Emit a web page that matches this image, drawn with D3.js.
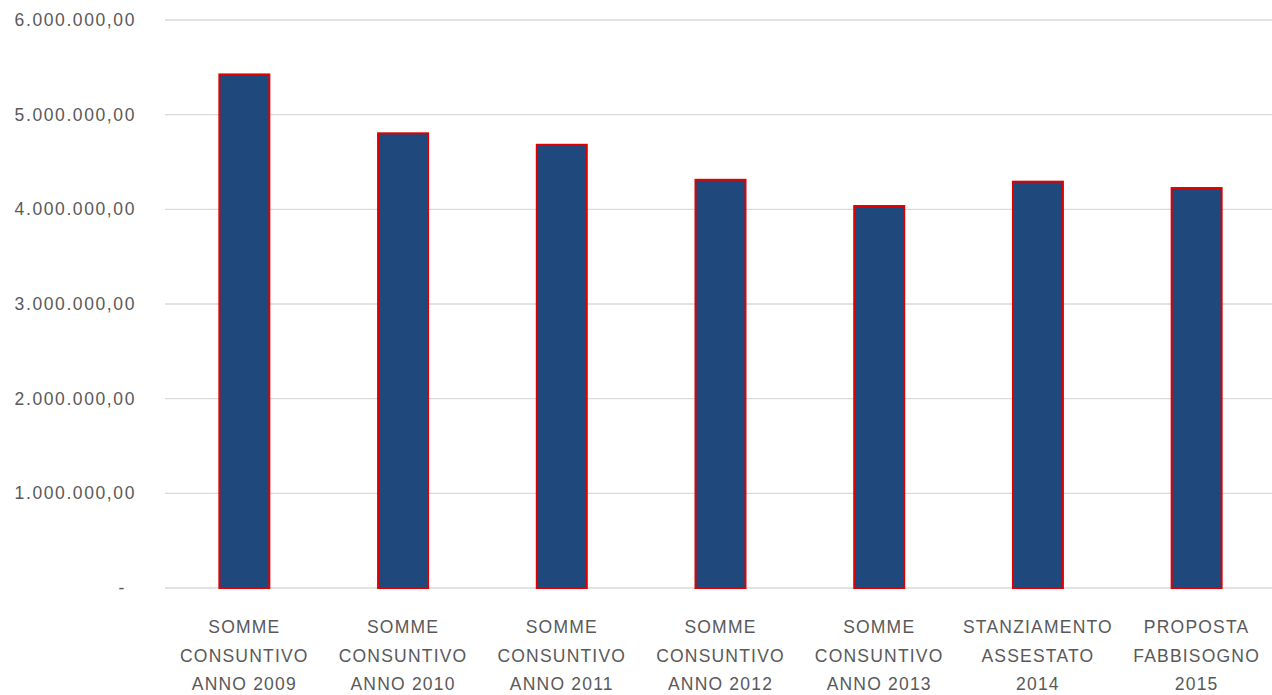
<!DOCTYPE html>
<html><head><meta charset="utf-8">
<script src="https://cdn.jsdelivr.net/npm/d3@7"></script>
<style>html,body{margin:0;padding:0;background:#fff;}svg{display:block;}</style>
</head><body>
<svg id="chart" width="1272" height="695"></svg>
<script>
const categories = [
  ["SOMME","CONSUNTIVO","ANNO 2009"],
  ["SOMME","CONSUNTIVO","ANNO 2010"],
  ["SOMME","CONSUNTIVO","ANNO 2011"],
  ["SOMME","CONSUNTIVO","ANNO 2012"],
  ["SOMME","CONSUNTIVO","ANNO 2013"],
  ["STANZIAMENTO","ASSESTATO","2014"],
  ["PROPOSTA","FABBISOGNO","2015"]
];
const values = [5425000, 4803000, 4682000, 4312000, 4035000, 4292000, 4225000];
const yTicks = [0, 1000000, 2000000, 3000000, 4000000, 5000000, 6000000];
const yTickLabels = ["-", "1.000.000,00", "2.000.000,00", "3.000.000,00", "4.000.000,00", "5.000.000,00", "6.000.000,00"];

(function(){
const svg = d3.select("#chart");
const mLeft = 165, mRight = 1276, mTop = 20, mBottom = 588;
const font = "'Liberation Sans', Arial, sans-serif";

const x = d3.scaleBand().domain(d3.range(categories.length)).range([mLeft, mRight]).paddingInner(0.685).paddingOuter(0.3425);
const y = d3.scaleLinear().domain([0, 6000000]).range([mBottom, mTop]);

svg.append("g").selectAll("line").data(yTicks).join("line")
  .attr("x1", mLeft).attr("x2", 1272)
  .attr("y1", d => y(d)).attr("y2", d => y(d))
  .attr("stroke", "#d9d9d9").attr("stroke-width", 1.3);

const yAxis = d3.axisLeft(y).tickValues(yTicks).tickSize(0).tickPadding(0)
  .tickFormat((d,i) => yTickLabels[i]);
const gy = svg.append("g").attr("transform", "translate(136,0)").call(yAxis);
gy.select(".domain").remove();
gy.selectAll("text").attr("font-family", font).attr("font-size", 17.5).attr("fill", "#595959")
  .attr("letter-spacing", "1.6px");
gy.selectAll(".tick").filter(d => d === 0).select("text").attr("dx", -10);

svg.append("g").selectAll("rect").data(values).join("rect")
  .attr("x", (d,i) => x(i))
  .attr("width", x.bandwidth())
  .attr("y", d => y(d))
  .attr("height", d => y(0) - y(d))
  .attr("fill", "#1F497D")
  .attr("stroke", "#E00000")
  .attr("stroke-width", 2);

const gx = svg.append("g");
categories.forEach((lines, i) => {
  const cx = x(i) + x.bandwidth()/2;
  const t = gx.append("text")
    .attr("text-anchor", "middle")
    .attr("font-family", font).attr("font-size", 17.5).attr("fill", "#595959")
    .attr("letter-spacing", "1.2px");
  lines.forEach((l, j) => t.append("tspan").attr("x", cx).attr("y", 633 + j*28.5).text(l));
});
})();
</script>
</body></html>
